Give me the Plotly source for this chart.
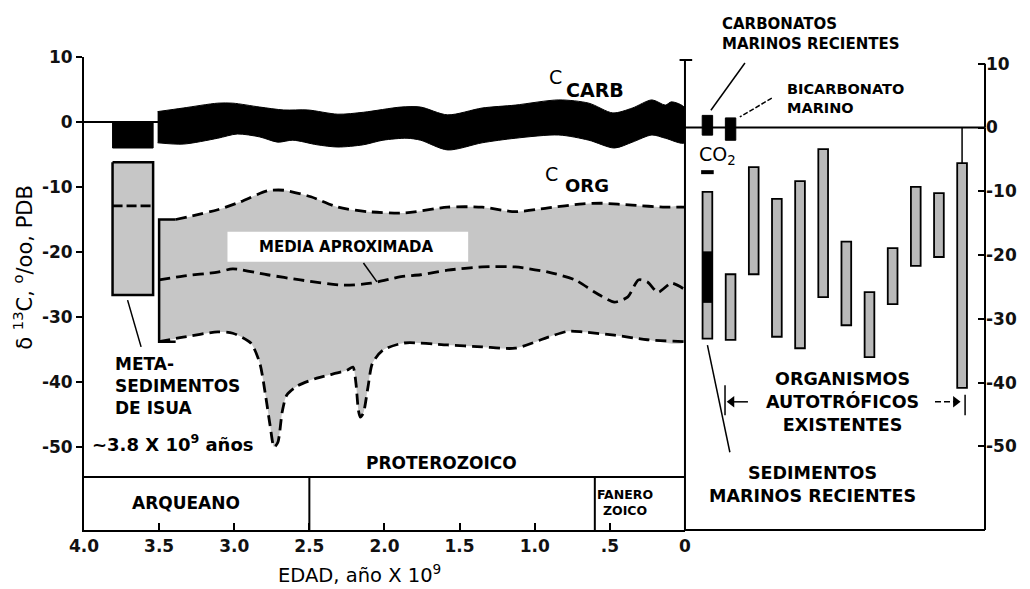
import plotly.graph_objects as go

# ---------------- data ----------------
# C_CARB band (left panel): age (Ga) and delta13C edges
carb_top_age = [3.51, 3.34, 3.11, 3.01, 2.83, 2.67, 2.51, 2.31, 2.14, 1.89, 1.76, 1.58, 1.35, 1.13, 0.84, 0.64, 0.48, 0.35, 0.22, 0.13, 0.09, 0.0]
carb_top = [1.6, 2.15, 2.9, 2.9, 2.3, 1.85, 1.85, 1.2, 1.5, 2.3, 2.3, 1.1, 2.15, 2.6, 3.4, 2.9, 1.4, 2.15, 3.4, 2.6, 3.1, 2.15]
carb_bot_age = [3.51, 3.34, 3.11, 2.98, 2.83, 2.71, 2.61, 2.45, 2.31, 2.14, 2.01, 1.85, 1.76, 1.58, 1.35, 1.13, 0.84, 0.64, 0.47, 0.35, 0.22, 0.13, 0.0]
carb_bot = [-3.2, -3.4, -2.5, -1.85, -2.3, -3.1, -2.8, -3.5, -3.85, -3.5, -2.8, -2.5, -2.8, -4.3, -3.2, -2.5, -2.0, -2.8, -4.0, -3.1, -2.0, -2.5, -3.2]

# Isua metasediments (~3.8 Ga)
isua_age = [3.81, 3.54]
isua_carb = [0.0, -4.0]
isua_org = [-6.2, -26.6]
isua_org_mean = -12.9

# C_ORG envelope
org_start_age = 3.5
org_up_age = [3.5, 3.39, 3.11, 2.96, 2.78, 2.67, 2.49, 2.31, 2.11, 1.87, 1.58, 1.35, 1.13, 0.91, 0.68, 0.55, 0.35, 0.13, 0.0]
org_up = [-15.0, -15.0, -13.5, -12.3, -10.6, -10.5, -11.5, -13.1, -13.8, -14.0, -13.1, -13.1, -13.8, -13.2, -12.6, -12.5, -12.8, -13.1, -13.1]
org_mean_age = [3.50, 3.34, 3.11, 3.01, 2.78, 2.56, 2.27, 2.09, 1.89, 1.76, 1.58, 1.35, 1.13, 0.91, 0.73, 0.60, 0.47, 0.38, 0.31, 0.25, 0.18, 0.09, 0.0]
org_mean = [-24.3, -23.7, -23.1, -22.6, -23.5, -24.3, -25.1, -24.8, -23.8, -23.5, -22.8, -22.3, -22.3, -23.1, -24.3, -26.2, -27.7, -26.9, -24.3, -24.6, -26.2, -24.8, -25.8]
org_low_age = [3.5, 3.34, 3.11, 3.01, 2.89, 2.83, 2.79, 2.76, 2.735, 2.71, 2.68, 2.65, 2.58, 2.45, 2.25, 2.21, 2.19, 2.174, 2.161, 2.141, 2.11, 2.08, 2.01, 1.87, 1.58, 1.35, 1.13, 0.91, 0.78, 0.68, 0.47, 0.25, 0.0]
org_low = [-33.8, -33.1, -32.3, -32.5, -34.0, -37.1, -42.3, -46.9, -50.0, -49.3, -44.5, -42.0, -40.6, -39.4, -38.2, -37.7, -40.2, -44.3, -45.4, -44.8, -40.8, -37.1, -35.1, -34.0, -34.3, -34.6, -34.8, -33.1, -32.2, -32.3, -32.8, -33.5, -33.8]

# era boundaries (Ga)
era_bounds = [4.0, 2.5, 0.6, 0.0]
x_tick_vals = [4.0, 3.5, 3.0, 2.5, 2.0, 1.5, 1.0, 0.5, 0.0]
x_tick_text = ["4.0", "3.5", "3.0", "2.5", "2.0", "1.5", "1.0", ".5", "0"]
y_tick_vals = [10, 0, -10, -20, -30, -40, -50]
y_tick_text = ["10", "0", "-10", "-20", "-30", "-40", "-50"]

# right panel: recent samples (index 1..12)
bar_idx = [1, 2, 3, 4, 5, 6, 7, 8, 9, 10, 11, 12]
bar_top = [-10.1, -23.0, -6.2, -11.2, -8.4, -3.4, -17.9, -25.8, -18.9, -9.3, -10.3, -5.6]
bar_bot = [-33.1, -33.3, -23.0, -32.8, -34.6, -26.6, -31.0, -36.0, -27.7, -21.7, -20.3, -40.8]
sed_dark = [-19.5, -27.4]          # dark part of bar 1
carb_recent = [1.9, -1.2]          # carbonatos marinos recientes (index 1)
bicarb = [1.5, -2.0]               # bicarbonato marino (index 2)
co2_value = -7.0                   # CO2 (index 1)

FONT = "DejaVu Sans, Liberation Sans, Arial, sans-serif"
GRAY = "#c6c6c6"

fig = go.Figure()

# ---------------- left panel ----------------
fig.add_trace(go.Scatter(x=[4.0, 0.0], y=[0, 0], mode="lines", line=dict(color="black", width=2),
                         xaxis="x", yaxis="y", hoverinfo="skip"))

# C_ORG gray envelope
fx = org_up_age + org_low_age[::-1]
fy = org_up + org_low[::-1]
fig.add_trace(go.Scatter(x=fx, y=fy, mode="lines", fill="toself", fillcolor=GRAY,
                         line=dict(width=0, color=GRAY, shape="spline", smoothing=0.7),
                         xaxis="x", yaxis="y", hoverinfo="skip"))
# bracket at left of envelope
fig.add_trace(go.Scatter(x=[org_up_age[1], org_start_age, org_start_age, org_up_age[1]],
                         y=[org_up[0], org_up[0], org_low[0], org_low[0]], mode="lines",
                         line=dict(color="black", width=2.5), xaxis="x", yaxis="y", hoverinfo="skip"))
for ax_, ay_ in [(org_up_age[1:], org_up[1:]), (org_mean_age, org_mean), (org_low_age, org_low)]:
    fig.add_trace(go.Scatter(x=ax_, y=ay_, mode="lines",
                             line=dict(color="black", width=2.8, dash="11px,6px", shape="spline", smoothing=0.7),
                             xaxis="x", yaxis="y", hoverinfo="skip"))

# C_CARB black band
bx = carb_top_age + carb_bot_age[::-1]
by = carb_top + carb_bot[::-1]
fig.add_trace(go.Scatter(x=bx, y=by, mode="lines", fill="toself", fillcolor="black",
                         line=dict(color="black", width=1, shape="spline", smoothing=0.8),
                         xaxis="x", yaxis="y", hoverinfo="skip"))

# Isua boxes
fig.add_trace(go.Scatter(x=[isua_age[0], isua_age[1], isua_age[1], isua_age[0], isua_age[0]],
                         y=[isua_carb[0], isua_carb[0], isua_carb[1], isua_carb[1], isua_carb[0]],
                         mode="lines", fill="toself", fillcolor="black", line=dict(color="black", width=1),
                         xaxis="x", yaxis="y", hoverinfo="skip"))
fig.add_trace(go.Scatter(x=[isua_age[0], isua_age[1], isua_age[1], isua_age[0], isua_age[0]],
                         y=[isua_org[0], isua_org[0], isua_org[1], isua_org[1], isua_org[0]],
                         mode="lines", fill="toself", fillcolor=GRAY, line=dict(color="black", width=2.5),
                         xaxis="x", yaxis="y", hoverinfo="skip"))
fig.add_trace(go.Scatter(x=isua_age, y=[isua_org_mean, isua_org_mean], mode="lines",
                         line=dict(color="black", width=2.8, dash="10px,4px"),
                         xaxis="x", yaxis="y", hoverinfo="skip"))

# ---------------- right panel ----------------
fig.add_trace(go.Scatter(x=[0.03, 12.99], y=[0, 0], mode="lines", line=dict(color="black", width=2),
                         xaxis="x2", yaxis="y2", hoverinfo="skip"))
fig.add_trace(go.Scatter(x=[bar_idx[-1], bar_idx[-1]], y=[0, bar_top[-1]], mode="lines",
                         line=dict(color="black", width=1.5), xaxis="x2", yaxis="y2", hoverinfo="skip"))
fig.add_trace(go.Bar(x=bar_idx, y=[t - b for t, b in zip(bar_top, bar_bot)], base=bar_bot, width=0.42,
                     marker=dict(color="#b9b9b9", line=dict(color="black", width=1.8)),
                     xaxis="x2", yaxis="y2", hoverinfo="skip"))
fig.add_trace(go.Bar(x=[1], y=[sed_dark[0] - sed_dark[1]], base=[sed_dark[1]], width=0.42,
                     marker=dict(color="black", line=dict(color="black", width=1)),
                     xaxis="x2", yaxis="y2", hoverinfo="skip"))
fig.add_trace(go.Bar(x=[1, 2], y=[carb_recent[0] - carb_recent[1], bicarb[0] - bicarb[1]],
                     base=[carb_recent[1], bicarb[1]], width=0.45,
                     marker=dict(color="black", line=dict(color="black", width=1)),
                     xaxis="x2", yaxis="y2", hoverinfo="skip"))
fig.add_trace(go.Scatter(x=[1], y=[co2_value], mode="markers",
                         marker=dict(symbol="line-ew", size=9, line=dict(color="black", width=4)),
                         xaxis="x2", yaxis="y2", hoverinfo="skip"))
# arrow heads for the "organismos autotróficos" span
fig.add_trace(go.Scatter(x=[2.05, 11.72], y=[-43.0, -43.0], mode="markers",
                         marker=dict(symbol=["triangle-left", "triangle-right"], size=10, color="black"),
                         xaxis="x2", yaxis="y2", hoverinfo="skip"))

# ---------------- shapes ----------------
shapes = []
def line(x0, y0, x1, y1, xref="x", yref="y", w=2, dash=None):
    ln = dict(color="black", width=w)
    if dash:
        ln["dash"] = dash
    shapes.append(dict(type="line", x0=x0, y0=y0, x1=x1, y1=y1, xref=xref, yref=yref,
                       line=ln, layer="above"))

ERA_TOP = -54.6
YBOT = -62.77
line(4.0, ERA_TOP, 0.0, ERA_TOP)
for b in era_bounds[1:3]:
    line(b, ERA_TOP, b, YBOT)
# right border of left panel
line(0.667, 0.0, 0.667, 0.9937, "paper", "paper")
line(0.661, 0.9937, 0.675, 0.9937, "paper", "paper")
# right panel frame
line(0.667, 0.0, 1.0, 0.0, "paper", "paper")
line(1.0, 10.0, 1.0, 0.0, "paper", "y2")
line(1.0, 0.0, 1.0, -63.09, "paper", "y2")
# white box for MEDIA APROXIMADA
shapes.append(dict(type="rect", x0=3.045, x1=1.443, y0=-16.9, y1=-21.5, xref="x", yref="y",
                   fillcolor="white", line=dict(width=0), layer="above"))
# leader lines
line(2.14, -21.7, 2.05, -24.6, w=1.5)
line(3.71, -27.4, 3.62, -34.6, w=1.5)
line(1.0, -34.1, 1.97, -50.9, "x2", "y2", w=1.5)
line(2.62, 10.1, 1.15, 2.7, "x2", "y2", w=1.5)
line(3.78, 4.6, 2.40, 1.65, "x2", "y2", w=1.5, dash="5px,2px")
# span bars and arrow shafts
line(1.76, -40.4, 1.76, -45.1, "x2", "y2", w=1.5)
line(12.13, -41.9, 12.13, -45.1, "x2", "y2", w=1.5)
line(1.9, -43.0, 2.75, -43.0, "x2", "y2", w=1.5)
line(10.83, -43.0, 11.8, -43.0, "x2", "y2", w=1.5, dash="6px,3px")

# ---------------- annotations ----------------
ann = []
def txt(text, x, y, size, xref="x", yref="y", xanchor="center", align="center", bold=True):
    ann.append(dict(text=text, x=x, y=y, xref=xref, yref=yref, showarrow=False, xanchor=xanchor,
                    yanchor="middle", align=align,
                    font=dict(family=FONT, size=size, color="black", weight="bold" if bold else "normal")))

txt("C", 0.86, 6.9, 19, bold=False)
txt("CARB", 0.60, 5.0, 19)
txt("C", 0.89, -8.0, 19, bold=False)
txt("ORG", 0.655, -9.8, 18)
txt("MEDIA APROXIMADA", 2.25, -19.2, 15)
txt("META-<br>SEDIMENTOS<br>DE ISUA", 3.81, -40.6, 17, xanchor="left", align="left")
txt("~3.8 X 10<sup>9</sup> años", 3.96, -49.4, 18, xanchor="left", align="left")
txt("PROTEROZOICO", 1.62, -52.5, 17)
txt("ARQUEANO", 3.32, -58.6, 17)
txt("FANERO<br>ZOICO", 0.40, -58.6, 12.5)

txt("CARBONATOS<br>MARINOS RECIENTES", 0.706, 1.0486, 15, "paper", "paper", xanchor="left", align="left")
txt("BICARBONATO<br>MARINO", 4.35, 4.6, 14.5, "x2", "y2", xanchor="left", align="left")
txt("CO<sub>2</sub>", 1.42, -4.4, 19, "x2", "y2", bold=False)
txt("ORGANISMOS<br>AUTOTRÓFICOS<br>EXISTENTES", 6.83, -43.0, 17.5, "x2", "y2")
txt("SEDIMENTOS<br>MARINOS RECIENTES", 5.56, -56.0, 17.5, "x2", "y2")

txt("EDAD, año X 10<sup>9</sup>", 0.306, -0.092, 19.5, "paper", "paper", bold=False)
ann.append(dict(text="δ <sup>13</sup>C, <sup>o</sup>/oo, PDB", x=-0.068, y=0.556, xref="paper", yref="paper",
                showarrow=False, textangle=-90, xanchor="center", yanchor="middle",
                font=dict(family=FONT, size=21, color="black")))

tickfont = dict(family=FONT, size=17, color="#111", weight="bold")

fig.update_layout(
    width=1030, height=589, autosize=False,
    margin=dict(l=84, r=45, t=57, b=59),
    paper_bgcolor="white", plot_bgcolor="rgba(0,0,0,0)",
    showlegend=False, barmode="overlay",
    shapes=shapes, annotations=ann,
    xaxis=dict(domain=[0, 0.667], range=[4.0, 0.0], anchor="y", showgrid=False, zeroline=False,
               showline=True, linecolor="black", linewidth=2,
               tickmode="array", tickvals=x_tick_vals, ticktext=x_tick_text,
               ticks="inside", ticklen=7, tickwidth=1.5, tickcolor="black", tickfont=tickfont),
    yaxis=dict(domain=[0, 1], range=[YBOT, 10.0], anchor="x", showgrid=False, zeroline=False,
               showline=True, linecolor="black", linewidth=2,
               tickmode="array", tickvals=y_tick_vals, ticktext=y_tick_text,
               ticks="outside", ticklen=6, tickwidth=2, tickcolor="black", tickfont=tickfont),
    xaxis2=dict(domain=[0.667, 1.0], range=[0.03, 12.99], anchor="y2", showgrid=False, zeroline=False,
                showline=False, showticklabels=False, ticks=""),
    yaxis2=dict(domain=[0, 1], range=[-63.09, 11.05], anchor="x2", side="right", showgrid=False,
                zeroline=False, showline=False,
                tickmode="array", tickvals=y_tick_vals, ticktext=y_tick_text,
                ticks="inside", ticklen=7, tickwidth=2, tickcolor="black", tickfont=tickfont),
)

fig.write_html("out.html")
